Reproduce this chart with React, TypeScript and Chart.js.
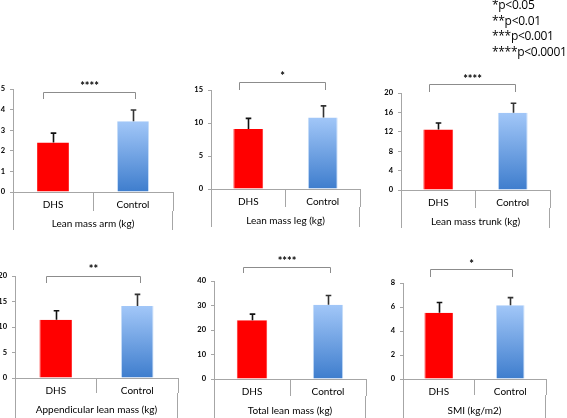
import React, { useEffect, useRef } from "react";
import { Chart, registerables } from "chart.js";

Chart.register(...registerables);

// ---------- data ----------
const groups = ["DHS", "Control"];
const panelTitles = [
  "Lean mass arm (kg)",
  "Lean mass leg (kg)",
  "Lean mass trunk (kg)",
  "Appendicular lean mass (kg)",
  "Total lean mass (kg)",
  "SMI (kg/m2)",
];
const dhsMeans = [2.4, 9.1, 12.5, 11.4, 24.0, 5.53];
const controlMeans = [3.43, 10.85, 15.95, 14.1, 30.3, 6.14];
const dhsErrors = [0.46, 1.6, 1.3, 1.8, 2.5, 0.84];
const controlErrors = [0.55, 1.75, 1.95, 2.3, 3.8, 0.64];
const sigStars = ["****", "*", "****", "**", "****", "*"];
const yMaxes = [5, 15, 20, 20, 40, 8];
const ySteps = [1, 5, 4, 5, 10, 2];
const legendLines = ["*p<0.05", "**p<0.01", "***p<0.001", "****p<0.0001"];

// ---------- layout (page pixels) ----------
const layout = [
  { left: 13, right: 173, top: 89, base: 192, tick: 19, brY: 92, brDrop: 99, starY: 84, toCanvas: false },
  { left: 211, right: 360, top: 90, base: 189, tick: 18, brY: 82, brDrop: 90, starY: 74, toCanvas: false },
  { left: 401, right: 550, top: 93, base: 190, tick: 18, brY: 84, brDrop: 92, starY: 77, toCanvas: false },
  { left: 15, right: 178, top: 276, base: 378, tick: 15, brY: 276, brDrop: 283, starY: 267, toCanvas: true },
  { left: 214, right: 366, top: 281, base: 379, tick: 17, brY: 267, brDrop: 273, starY: 259, toCanvas: true },
  { left: 403, right: 546, top: 283, base: 379, tick: 16, brY: 269, brDrop: 277, starY: 262, toCanvas: true },
];

const FONT = "Lato, 'Open Sans', 'Liberation Sans', sans-serif";
const AXIS = "#A6A6A6";
const YW = 30;
const PT = 40;
const PR = 3;
const XH = 38;
const PAGE_H = 418;

function Panel({ i }: { i: number }) {
  const ref = useRef<HTMLCanvasElement>(null);
  const L = layout[i];
  const extraBottom = L.toCanvas ? PAGE_H - (L.base + XH) : 0;
  const cw = L.right - L.left + YW + PR;
  const ch = PT + (L.base - L.top) + XH + extraBottom;
  const offY = L.top - PT;

  useEffect(() => {
    const means = [dhsMeans[i], controlMeans[i]];
    const errs = [dhsErrors[i], controlErrors[i]];

    const decor = {
      id: "decor" + i,
      afterDatasetsDraw(chart: any) {
        const ctx = chart.ctx;
        const xs = chart.scales.x;
        const ys = chart.scales.y;
        const meta = chart.getDatasetMeta(0);
        ctx.save();
        // error bars
        meta.data.forEach((bar: any, j: number) => {
          const x = Math.round(bar.x) + 0.5;
          const yTop = ys.getPixelForValue(means[j] + errs[j]);
          ctx.strokeStyle = j === 0 ? "#111" : "#333";
          ctx.lineWidth = 1.6;
          ctx.beginPath();
          ctx.moveTo(x, bar.y);
          ctx.lineTo(x, yTop);
          ctx.moveTo(x - 2.8, yTop);
          ctx.lineTo(x + 2.8, yTop);
          ctx.stroke();
        });
        // extended frame lines under axis
        const area = chart.chartArea;
        const y0 = xs.top + L.tick;
        const y1 = L.toCanvas ? chart.height : xs.bottom;
        ctx.strokeStyle = AXIS;
        ctx.lineWidth = 1;
        ctx.beginPath();
        ctx.moveTo(Math.round(area.left) + 0.5, y0);
        ctx.lineTo(Math.round(area.left) + 0.5, y1);
        ctx.moveTo(Math.round(area.right) - 0.5, y0);
        ctx.lineTo(Math.round(area.right) - 0.5, y1);
        ctx.stroke();
        // significance bracket
        const xl = Math.round(xs.getPixelForValue(-0.12)) + 0.5;
        const xr = Math.round(xs.getPixelForValue(1.03)) + 0.5;
        const by = L.brY - offY + 0.5;
        const bd = L.brDrop - offY;
        ctx.strokeStyle = "#8C8C8C";
        ctx.lineWidth = 1;
        ctx.beginPath();
        ctx.moveTo(xl, bd);
        ctx.lineTo(xl, by);
        ctx.lineTo(xr, by);
        ctx.lineTo(xr, bd);
        ctx.stroke();
        ctx.fillStyle = "#000";
        ctx.font = "bold 11px " + FONT;
        ctx.textAlign = "center";
        ctx.textBaseline = "alphabetic";
        ctx.fillText(sigStars[i], (xl + xr) / 2, L.starY - offY + 6);
        ctx.restore();
      },
    };

    const chart = new Chart(ref.current as HTMLCanvasElement, {
      type: "bar",
      data: {
        labels: groups,
        datasets: [
          {
            data: means,
            backgroundColor: (c: any) => {
              if (c.dataIndex === 0) return "#FF0000";
              const ch = c.chart;
              const area = ch.chartArea;
              const ys = ch.scales && ch.scales.y;
              if (!area || !ys) return "#6FA1E6";
              const top = ys.getPixelForValue(means[1]);
              const g = ch.ctx.createLinearGradient(0, top, 0, area.bottom);
              g.addColorStop(0, "#A2C7F8");
              g.addColorStop(1, "#3E7DCD");
              return g;
            },
            borderColor: (c: any) => (c.dataIndex === 0 ? "#FF3030" : "#C5DCF8"),
            borderWidth: { left: 1, right: 1, top: 0, bottom: 0 },
            barPercentage: 0.4,
            categoryPercentage: 1,
          },
        ],
      },
      options: {
        animation: false,
        responsive: false,
        maintainAspectRatio: false,
        devicePixelRatio: 1,
        layout: { padding: { top: PT, right: PR, left: 0, bottom: extraBottom } },
        plugins: { legend: { display: false }, tooltip: { enabled: false } },
        scales: {
          x: {
            offset: true,
            grid: {
              display: true,
              offset: true,
              drawOnChartArea: false,
              drawTicks: true,
              tickLength: L.tick,
              color: AXIS,
            },
            border: { display: true, color: AXIS, width: 1 },
            ticks: {
              padding: 7 - L.tick,
              color: "#000",
              font: { family: FONT, size: 10, lineHeight: 1.2 },
              maxRotation: 0,
            },
            title: {
              display: true,
              text: panelTitles[i],
              padding: 0,
              color: "#000",
              font: { family: FONT, size: 10, lineHeight: 1.2 },
            },
            afterFit: (s: any) => {
              s.height = XH;
            },
          },
          y: {
            min: 0,
            max: yMaxes[i],
            ticks: {
              stepSize: ySteps[i],
              padding: 5,
              color: "#000",
              font: { family: FONT, size: 7.5, weight: "bold" },
            },
            grid: { display: true, drawOnChartArea: false, drawTicks: true, tickLength: 3, color: AXIS },
            border: { display: true, color: AXIS, width: 1 },
            afterFit: (s: any) => {
              s.width = YW;
            },
          },
        },
      } as any,
      plugins: [decor],
    });
    return () => chart.destroy();
  }, []);

  return (
    <canvas
      ref={ref}
      width={cw}
      height={ch}
      style={{ position: "absolute", left: L.left - YW, top: offY, width: cw, height: ch }}
    />
  );
}

export default function App() {
  return (
    <div
      style={{
        position: "absolute",
        left: 0,
        top: 0,
        width: 567,
        height: 418,
        overflow: "hidden",
        background: "#fff",
      }}
    >
      {layout.map((_, i) => (
        <Panel key={i} i={i} />
      ))}
      <div
        style={{
          position: "absolute",
          left: 492,
          top: -3,
          fontFamily: "'Open Sans', Lato, sans-serif",
          fontSize: 12,
          letterSpacing: "-0.3px",
          lineHeight: "15.5px",
          color: "#000",
          whiteSpace: "nowrap",
        }}
      >
        {legendLines.map((t, k) => (
          <div key={k}>{t}</div>
        ))}
      </div>
    </div>
  );
}
